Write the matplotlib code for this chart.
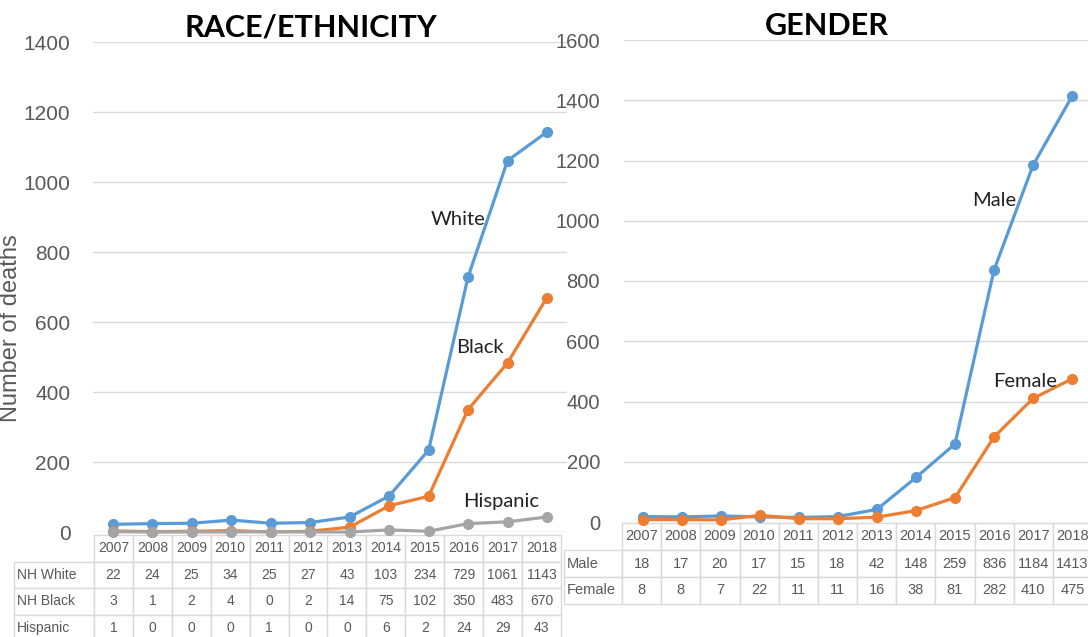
import matplotlib.pyplot as plt
from matplotlib.table import Table

years = ['2007', '2008', '2009', '2010', '2011', '2012',
         '2013', '2014', '2015', '2016', '2017', '2018']

nh_white = [22, 24, 25, 34, 25, 27, 43, 103, 234, 729, 1061, 1143]
nh_black = [3, 1, 2, 4, 0, 2, 14, 75, 102, 350, 483, 670]
hispanic = [1, 0, 0, 0, 1, 0, 0, 6, 2, 24, 29, 43]
race_labels = ['NH White', 'NH Black', 'Hispanic']

male = [18, 17, 20, 17, 15, 18, 42, 148, 259, 836, 1184, 1413]
female = [8, 8, 7, 22, 11, 11, 16, 38, 81, 282, 410, 475]
gender_labels = ['Male', 'Female']

BLUE = '#5B9BD5'
ORANGE = '#ED7D31'
GREY = '#A5A5A5'
GRID = '#D9D9D9'
TXT = '#595959'
LBL = '#222222'

W, H = 1088, 637
fig = plt.figure(figsize=(W / 100, H / 100), dpi=100)
fig.patch.set_facecolor('white')


def px_axes(left, top, right, bottom):
    """axes placée en pixels (origine en haut à gauche)"""
    return fig.add_axes([left / W, 1 - bottom / H, (right - left) / W, (bottom - top) / H])


def style_axes(ax, ymax, pad, size):
    ax.set_xlim(-0.5, 11.5)
    ax.set_ylim(0, ymax)
    ax.set_yticks(range(0, ymax + 1, 200))
    ax.set_xticks([])
    for s in ax.spines.values():
        s.set_visible(False)
    ax.grid(axis='y', color=GRID, lw=1)
    ax.set_axisbelow(True)
    ax.tick_params(axis='y', length=0, pad=pad, labelsize=size, labelcolor=TXT)
    for lab in ax.get_yticklabels():
        lab.set_fontfamily('Liberation Sans')


def add_table(ax, ax_px, tbl_px, labels, rows, label_w, fsize):
    """Tableau de données sous le graphe (coordonnées pixels -> axes)"""
    al, at, ar, ab = ax_px
    tl, tt, tr, tb = tbl_px
    aw, ah = ar - al, ab - at
    bbox = [(tl - al) / aw, (ab - tb) / ah, (tr - tl) / aw, (tb - tt) / ah]
    tab = Table(ax, bbox=bbox)
    n_rows = len(rows) + 1
    col_w = (tr - tl - label_w) / len(years)
    h = 1.0 / n_rows
    # ligne des années
    c = tab.add_cell(0, 0, width=label_w, height=h, text='')
    c.visible_edges = ''
    for j, y in enumerate(years):
        tab.add_cell(0, j + 1, width=col_w, height=h, text=y, loc='center')
    for i, (lab, vals) in enumerate(zip(labels, rows)):
        tab.add_cell(i + 1, 0, width=label_w, height=h, text=lab, loc='left')
        for j, v in enumerate(vals):
            tab.add_cell(i + 1, j + 1, width=col_w, height=h, text=str(v), loc='center')
    tab.auto_set_font_size(False)
    tab.set_fontsize(fsize)
    for cell in tab.get_celld().values():
        cell.set_edgecolor(GRID)
        cell.set_linewidth(1)
        cell.PAD = 0.04
        cell.get_text().set_color(TXT)
        cell.get_text().set_fontfamily('Liberation Sans')
    ax.add_table(tab)
    return tab


x = range(len(years))

# ---- RACE/ETHNICITY ----
ax1_px = (93.3, 42, 566.7, 532)
ax1 = px_axes(*ax1_px)
style_axes(ax1, 1400, 16.5, 15)
ax1.plot(x, nh_white, color=BLUE, lw=2.3, marker='o', ms=7, clip_on=False, zorder=3)
ax1.plot(x, nh_black, color=ORANGE, lw=2.3, marker='o', ms=7, clip_on=False, zorder=3)
ax1.plot(x, hispanic, color=GREY, lw=2.3, marker='o', ms=7, clip_on=False, zorder=3)
ax1.text(8.75, 894, 'White', fontsize=14.5, family='Lato', ha='center', va='center', color=LBL)
ax1.text(9.3, 528, 'Black', fontsize=14.5, family='Lato', ha='center', va='center', color=LBL)
ax1.text(9.85, 88, 'Hispanic', fontsize=14.5, family='Lato', ha='center', va='center', color=LBL)
ax1.set_title('RACE/ETHNICITY', fontsize=22, fontweight='bold', family='Lato', pad=2, x=0.46)
add_table(ax1, ax1_px, (14, 535, 561, 641), race_labels, [nh_white, nh_black, hispanic], 80, 10)

# titre de l'axe Y, coupé par le bord gauche comme sur l'original
fig.text(11 / W, 1 - 328 / H, 'Number of deaths', rotation=90, ha='center', va='center',
         fontsize=17, color=TXT, family='Liberation Sans')

# ---- GENDER ----
ax2_px = (623.5, 40, 1091.5, 522)
ax2 = px_axes(*ax2_px)
style_axes(ax2, 1600, 17, 14.5)
ax2.plot(x, male, color=BLUE, lw=2.3, marker='o', ms=7, clip_on=False, zorder=3)
ax2.plot(x, female, color=ORANGE, lw=2.3, marker='o', ms=7, clip_on=False, zorder=3)
ax2.text(9.0, 1066, 'Male', fontsize=14.5, family='Lato', ha='center', va='center', color=LBL)
ax2.text(9.8, 465, 'Female', fontsize=14.5, family='Lato', ha='center', va='center', color=LBL)
ax2.set_title('GENDER', fontsize=22, fontweight='bold', family='Lato', pad=2, x=0.435)
add_table(ax2, ax2_px, (564, 523, 1092, 604), gender_labels, [male, female], 58, 10.5)

fig.savefig('out.png', dpi=100, facecolor='white')
